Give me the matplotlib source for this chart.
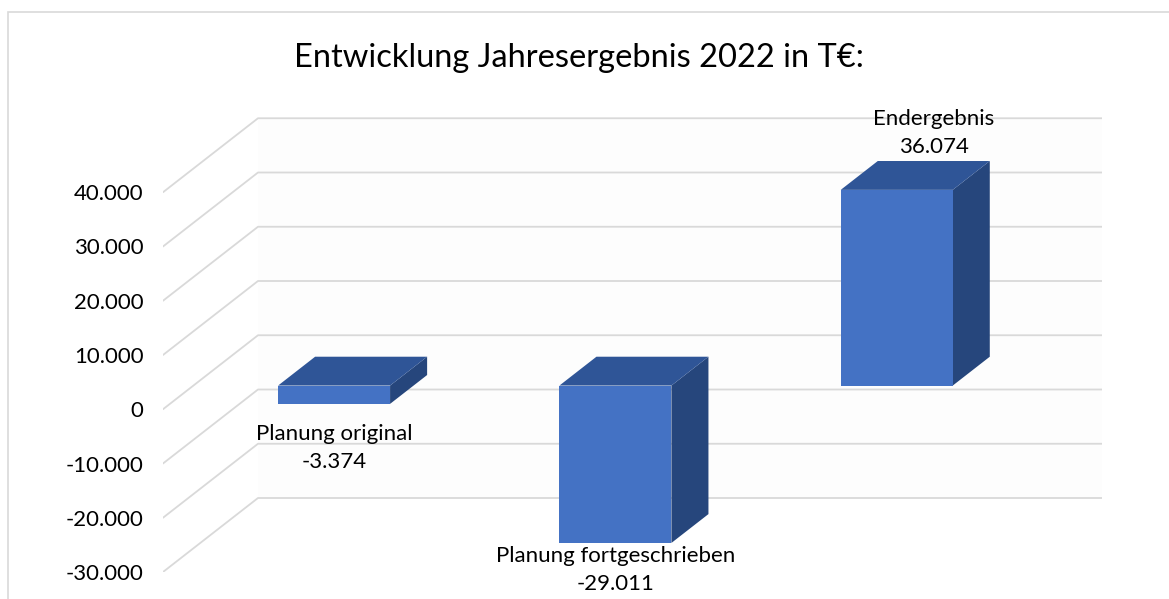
import numpy as np
import matplotlib
matplotlib.use('Agg')
from matplotlib import pyplot as plt
from matplotlib.patches import Polygon, Rectangle

plt.rcParams['font.family'] = ['Lato', 'DejaVu Sans']

#data
categories = ['Planung original', 'Planung fortgeschrieben', 'Endergebnis']
values = [-3374, -29011, 36074]
yticks = [-30000, -20000, -10000, 0, 10000, 20000, 30000, 40000]
title = 'Entwicklung Jahresergebnis 2022 in T€:'

def de_fmt(v):
    return f'{v:,.0f}'.replace(',', '.')

#layout (pixels of a 1169x599 figure)
W, H = 1169, 599
px_x = 3 / 844.0          # categories per pixel
px_y = 40000 / 217.0      # value per pixel
DX = 95 * px_x            # full floor depth, x part
DY = 74 * px_y            # full floor depth, y part
d1, d2 = 0.32, 0.71       # bar depth range
bw = 112 * px_x           # bar width

fig = plt.figure(figsize=(W / 100, H / 100), dpi=100)
ax = fig.add_axes([163 / W, (H - 572) / H, 939 / W, 455 / H])
ax.set_xlim(-0.5, -0.5 + 939 * px_x)
ax.set_ylim(-30000, -30000 + 455 * px_y)
for s in ax.spines.values():
    s.set_visible(False)
ax.set_xticks([])
ax.set_yticks(yticks)
ax.set_yticklabels([de_fmt(t) for t in yticks], fontsize=16)
ax.tick_params(axis='y', length=0, pad=14)

#outer frame
fig.patches.append(Rectangle((8 / W, -0.1), 1.2, (H - 12) / H + 0.1, transform=fig.transFigure,
                             fill=False, edgecolor='#d9d9d9', lw=1.2))

#back wall
xr = ax.get_xlim()[1]
ax.add_patch(Polygon([(-0.5 + DX, yticks[0] + DY), (xr, yticks[0] + DY),
                      (xr, yticks[-1] + DY), (-0.5 + DX, yticks[-1] + DY)],
                     closed=True, facecolor='#fdfdfd', edgecolor='none', zorder=0))

#gridlines: side wall diagonal + back wall horizontal
for t in yticks:
    ax.plot([-0.5, -0.5 + DX, xr], [t, t + DY, t + DY], color='#d9d9d9', lw=1.3,
            solid_capstyle='round', zorder=1)

#bars
front_c = '#4472C4'
top_c = '#2F5597'
side_c = '#26467C'
label_gap = [20, 3, 4]
for i, v in enumerate(values):
    lo, hi = min(0, v), max(0, v)
    x0 = i - bw / 2 + d1 * DX
    x1 = x0 + bw
    y0 = lo + d1 * DY
    y1 = hi + d1 * DY
    ddx = (d2 - d1) * DX
    ddy = (d2 - d1) * DY
    ax.add_patch(Polygon([(x1, y0), (x1, y1), (x1 + ddx, y1 + ddy), (x1 + ddx, y0 + ddy)],
                         closed=True, facecolor=side_c, edgecolor='none', zorder=3))
    ax.add_patch(Polygon([(x0, y1), (x1, y1), (x1 + ddx, y1 + ddy), (x0 + ddx, y1 + ddy)],
                         closed=True, facecolor=top_c, edgecolor='none', zorder=3))
    ax.add_patch(Rectangle((x0, y0), bw, hi - lo, facecolor=front_c, edgecolor='none', zorder=4))
    txt = f'{categories[i]}\n{de_fmt(v)}'
    if v < 0:
        ax.annotate(txt, xy=((x0 + x1) / 2, y0), xytext=(0, -label_gap[i] * 0.72),
                    textcoords='offset points', ha='center', va='top', fontsize=16,
                    linespacing=1.5, zorder=5, annotation_clip=False)
    else:
        ax.annotate(txt, xy=((x0 + x1) / 2 + ddx, y1 + ddy), xytext=(0, label_gap[i] * 0.72),
                    textcoords='offset points', ha='center', va='bottom', fontsize=16,
                    linespacing=1.5, zorder=5, annotation_clip=False)

fig.text(579 / W, 1 - 58 / H, title, ha='center', va='center', fontsize=23.5)

plt.savefig('out.png', dpi=100)
